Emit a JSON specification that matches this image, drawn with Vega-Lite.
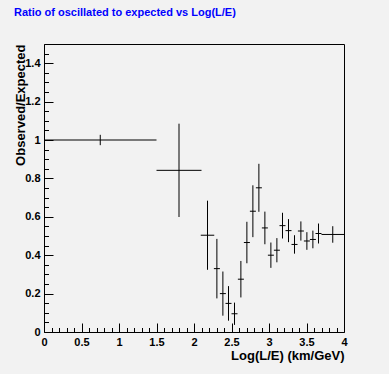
{
  "$schema": "https://vega.github.io/schema/vega-lite/v6.json",
  "width": 300,
  "height": 288,
  "autosize": {"type": "none"},
  "padding": {"left": 44, "top": 44, "right": 45, "bottom": 42},
  "background": "#f2f2f2",
  "title": {
    "text": "Ratio of oscillated to expected vs Log(L/E)",
    "anchor": "start",
    "frame": "group",
    "color": "#0000ff",
    "font": "Liberation Sans",
    "fontSize": 11,
    "fontWeight": "bold",
    "dx": -30,
    "offset": 20
  },
  "config": {
    "view": {"stroke": "#000000", "strokeWidth": 1},
    "axis": {
      "domain": false,
      "grid": false,
      "labelFont": "Liberation Sans",
      "labelFontWeight": "bold",
      "labelFontSize": 11,
      "labelColor": "#000000",
      "tickColor": "#000000",
      "titleFont": "Liberation Sans",
      "titleFontWeight": "bold",
      "titleFontSize": 13,
      "titleColor": "#000000"
    }
  },
  "data": {
    "values": [
      {"x": 0.75, "xerr": 0.75, "y": 1.0, "yerr": 0.027},
      {"x": 1.8, "xerr": 0.3, "y": 0.842, "yerr": 0.243},
      {"x": 2.18, "xerr": 0.09, "y": 0.504, "yerr": 0.18},
      {"x": 2.305, "xerr": 0.04, "y": 0.33, "yerr": 0.155},
      {"x": 2.385, "xerr": 0.04, "y": 0.2, "yerr": 0.115},
      {"x": 2.46, "xerr": 0.04, "y": 0.149, "yerr": 0.09},
      {"x": 2.54, "xerr": 0.04, "y": 0.095, "yerr": 0.058},
      {"x": 2.625, "xerr": 0.04, "y": 0.275, "yerr": 0.095},
      {"x": 2.705, "xerr": 0.04, "y": 0.466, "yerr": 0.108},
      {"x": 2.785, "xerr": 0.04, "y": 0.629, "yerr": 0.135},
      {"x": 2.865, "xerr": 0.04, "y": 0.751, "yerr": 0.125},
      {"x": 2.945, "xerr": 0.04, "y": 0.542, "yerr": 0.085},
      {"x": 3.025, "xerr": 0.04, "y": 0.4, "yerr": 0.066},
      {"x": 3.105, "xerr": 0.04, "y": 0.426, "yerr": 0.063},
      {"x": 3.18, "xerr": 0.04, "y": 0.554, "yerr": 0.067},
      {"x": 3.26, "xerr": 0.04, "y": 0.528, "yerr": 0.06},
      {"x": 3.34, "xerr": 0.04, "y": 0.456, "yerr": 0.048},
      {"x": 3.425, "xerr": 0.04, "y": 0.526, "yerr": 0.05},
      {"x": 3.505, "xerr": 0.04, "y": 0.474, "yerr": 0.046},
      {"x": 3.585, "xerr": 0.04, "y": 0.482, "yerr": 0.046},
      {"x": 3.66, "xerr": 0.04, "y": 0.513, "yerr": 0.052},
      {"x": 3.85, "xerr": 0.15, "y": 0.508, "yerr": 0.043}
    ]
  },
  "encoding": {
    "x": {
      "field": "x",
      "type": "quantitative",
      "scale": {"domain": [0, 4], "nice": false, "zero": false},
      "axis": {
        "title": "Log(L/E) (km/GeV)",
        "titleAnchor": "end",
        "titleAlign": "right",
        "titleBaseline": "top",
        "titleY": 17,
        "values": [0,0.1,0.2,0.3,0.4,0.5,0.6,0.7,0.8,0.9,1,1.1,1.2,1.3,1.4,1.5,1.6,1.7,1.8,1.9,2,2.1,2.2,2.3,2.4,2.5,2.6,2.7,2.8,2.9,3,3.1,3.2,3.3,3.4,3.5,3.6,3.7,3.8,3.9,4],
        "labelExpr": "abs(datum.value*2 - round(datum.value*2)) < 0.001 ? format(datum.value, '.2~f') : ''",
        "tickSize": {"condition": {"test": "abs(datum.value*2 - round(datum.value*2)) < 0.001", "value": -9}, "value": -4.5},
        "labelPadding": 13,
        "labelFlush": false,
        "labelOverlap": false
      }
    },
    "y": {
      "field": "y",
      "type": "quantitative",
      "scale": {"domain": [0, 1.5], "nice": false, "zero": false},
      "axis": {
        "title": "Observed/Expected",
        "titleAnchor": "end",
        "titleAlign": "right",
        "titleBaseline": "middle",
        "titleX": -24,
        "values": [0,0.05,0.1,0.15,0.2,0.25,0.3,0.35,0.4,0.45,0.5,0.55,0.6,0.65,0.7,0.75,0.8,0.85,0.9,0.95,1,1.05,1.1,1.15,1.2,1.25,1.3,1.35,1.4,1.45,1.5],
        "labelExpr": "abs(datum.value*5 - round(datum.value*5)) < 0.001 && datum.value < 1.45 ? format(datum.value, '.2~f') : ''",
        "tickSize": {"condition": {"test": "abs(datum.value*5 - round(datum.value*5)) < 0.001", "value": -9}, "value": -4.5},
        "labelPadding": 13,
        "labelFlush": false,
        "labelOverlap": false
      }
    }
  },
  "layer": [
    {
      "mark": {"type": "errorbar", "color": "#000000", "thickness": 1},
      "encoding": {"xError": {"field": "xerr"}}
    },
    {
      "mark": {"type": "errorbar", "color": "#000000", "thickness": 1},
      "encoding": {"yError": {"field": "yerr"}}
    }
  ]
}
